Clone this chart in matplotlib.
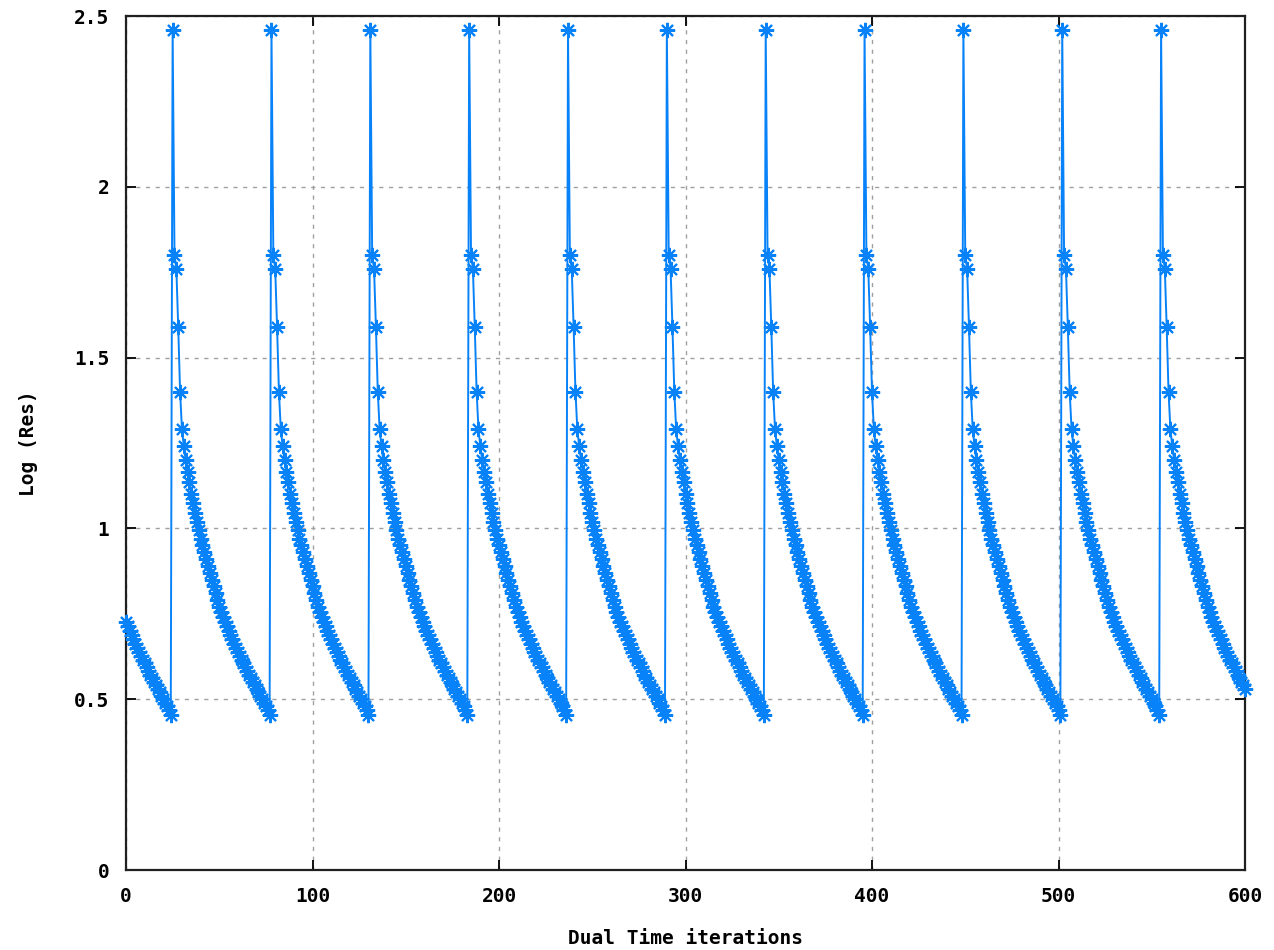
import numpy as np
import matplotlib
matplotlib.use("Agg")
import matplotlib.pyplot as plt

# One convergence cycle of the dual-time residual (53 inner iterations)
cycle_values = [2.46, 1.80, 1.76, 1.59, 1.40, 1.29, 1.24, 1.20, 1.166, 1.137,
                1.10, 1.074, 1.045, 1.02, 0.995, 0.97, 0.95, 0.93, 0.91, 0.89,
                0.87, 0.85, 0.83, 0.81, 0.79, 0.77, 0.755, 0.74, 0.727, 0.713,
                0.70, 0.688, 0.675, 0.663, 0.651, 0.639, 0.627, 0.616, 0.605, 0.594,
                0.583, 0.572, 0.561, 0.551, 0.541, 0.53, 0.52, 0.51, 0.50, 0.49,
                0.48, 0.468, 0.455]
first_peak_iter = 25
last_iter = 600
x_ticks = [0, 100, 200, 300, 400, 500, 600]
y_ticks = [0, 0.5, 1, 1.5, 2, 2.5]
y_tick_labels = ["0", "0.5", "1", "1.5", "2", "2.5"]
x_label = "Dual Time iterations"
y_label = "Log (Res)"

period = len(cycle_values)
iters = np.arange(0, last_iter + 1)
res = np.array([cycle_values[(i - first_peak_iter) % period] for i in iters])

blue = "#0882f8"
font = dict(family="DejaVu Sans Mono", weight="bold", size=14)

fig = plt.figure(figsize=(12.74, 9.5), dpi=100)
ax = fig.add_axes([126 / 1274, 80 / 950, (1245 - 126) / 1274, (870 - 16) / 950])

ax.plot(iters, res, color=blue, lw=1.4, marker=(8, 2, 0), markersize=11,
        markeredgewidth=1.5, markeredgecolor=blue, markerfacecolor=blue,
        clip_on=False, zorder=3)

ax.set_xlim(0, 600)
ax.set_ylim(0, 2.5)
ax.set_xticks(x_ticks)
ax.set_xticklabels([str(t) for t in x_ticks], fontdict=font)
ax.set_yticks(y_ticks)
ax.set_yticklabels(y_tick_labels, fontdict=font)
ax.tick_params(direction="in", length=7, width=1.3, top=True, right=True,
               pad=12, colors="black")
ax.grid(True, color="#a0a0a0", linestyle=(0, (3, 4)), linewidth=1.0)
for s in ax.spines.values():
    s.set_linewidth(1.6)
    s.set_color("#202020")

ax.set_xlabel(x_label, fontdict=font, labelpad=17)
ax.set_ylabel(y_label, fontdict=font, labelpad=26)

fig.savefig("out.png", dpi=100)
